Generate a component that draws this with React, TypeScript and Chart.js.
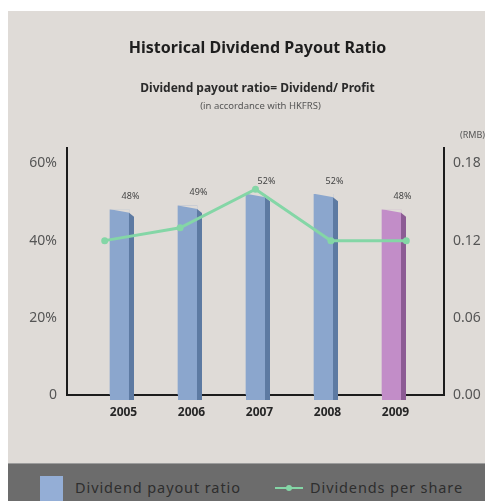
import React, { useEffect, useRef } from "react";
import { Chart, registerables } from "chart.js";

Chart.register(...registerables);

const years = ["2005", "2006", "2007", "2008", "2009"];
const payoutRatio = [48, 49, 52, 52, 48];
const dividendsPerShare = [0.12, 0.13, 0.16, 0.12, 0.12];
const leftTicks = [0, 20, 40, 60];
const leftTickLabels = ["0", "20%", "40%", "60%"];
const rightTicks = [0, 0.06, 0.12, 0.18];
const rightTickLabels = ["0.00", "0.06", "0.12", "0.18"];

const FRONT = ["#8ba6cd", "#8ba6cd", "#8ba6cd", "#8ba6cd", "#c28dc8"];
const SIDE = ["#5d7aa2", "#5d7aa2", "#5d7aa2", "#5d7aa2", "#8c5b94"];
const PANEL = "#dfdbd7";
const GREEN = "#84d6a6";
const FONT = "'Noto Sans', 'DejaVu Sans', sans-serif";

const bar3d = {
  id: "bar3d",
  afterDatasetDraw(chart: any, args: any) {
    if (args.index !== 0) return;
    const ctx = chart.ctx;
    const meta = chart.getDatasetMeta(0);
    ctx.save();
    meta.data.forEach((el: any, i: number) => {
      const { x, y, base, width } = el.getProps(["x", "y", "base", "width"], true);
      const xl = x - width / 2;
      const xr = x + width / 2;
      // extension below base
      ctx.fillStyle = FRONT[i];
      ctx.fillRect(xl, base - 1, width, 6);
      // side face
      ctx.fillStyle = SIDE[i];
      ctx.beginPath();
      ctx.moveTo(xr, y + 3);
      ctx.lineTo(xr + 5, y + 7);
      ctx.lineTo(xr + 5, base + 5);
      ctx.lineTo(xr, base + 5);
      ctx.closePath();
      ctx.fill();
      // slanted top
      ctx.fillStyle = PANEL;
      ctx.beginPath();
      ctx.moveTo(xl, y - 0.5);
      ctx.lineTo(xr + 0.5, y - 0.5);
      ctx.lineTo(xr + 0.5, y + 3);
      ctx.closePath();
      ctx.fill();
      // value label
      ctx.fillStyle = "#444";
      ctx.font = `9px ${FONT}`;
      ctx.textAlign = "center";
      ctx.textBaseline = "middle";
      ctx.fillText(`${payoutRatio[i]}%`, x + 11, y - 13);
    });
    ctx.restore();
  },
};

export default function App() {
  const ref = useRef<HTMLCanvasElement | null>(null);

  useEffect(() => {
    if (!ref.current) return;
    Chart.defaults.font.family = FONT;
    const chart = new Chart(ref.current, {
      type: "bar",
      data: {
        labels: years,
        datasets: [
          {
            type: "bar",
            label: "Dividend payout ratio",
            data: payoutRatio.map((v, i) => ({ x: i, y: v })) as any,
            backgroundColor: FRONT,
            barThickness: 19,
            grouped: false,
            xAxisID: "xb",
            yAxisID: "y",
            order: 1,
          },
          {
            type: "line",
            label: "Dividends per share",
            data: dividendsPerShare,
            borderColor: GREEN,
            backgroundColor: GREEN,
            borderWidth: 3,
            pointRadius: 3.5,
            pointBorderWidth: 0,
            tension: 0,
            xAxisID: "x",
            yAxisID: "y1",
            order: 0,
          },
        ] as any,
      },
      options: {
        responsive: false,
        animation: false,
        layout: { padding: { top: 137, left: 0, right: 0, bottom: 0 } },
        plugins: {
          legend: { display: false },
          tooltip: { enabled: false },
          title: { display: false },
        },
        scales: {
          x: {
            type: "category",
            display: false,
            offset: true,
          },
          xb: {
            type: "linear",
            position: "bottom",
            offset: false,
            min: -0.772,
            max: 4.772,
            grid: { display: false, drawTicks: false, offset: false },
            border: { display: true, color: "#1c1c1c", width: 2 },
            afterBuildTicks: (s: any) => {
              s.ticks = years.map((_, i) => ({ value: i }));
            },
            afterFit: (s: any) => {
              s.height = 36;
            },
            ticks: {
              autoSkip: false,
              maxRotation: 0,
              padding: 10,
              labelOffset: 4,
              color: "#262626",
              font: { size: 12, weight: "bold" },
              callback: (v: any) => years[Math.round(v)] ?? "",
            },
          },
          y: {
            type: "linear",
            position: "left",
            min: 0,
            max: 64,
            grid: { display: false, drawTicks: false },
            border: { display: true, color: "#1c1c1c", width: 2 },
            afterBuildTicks: (s: any) => {
              s.ticks = leftTicks.map((v) => ({ value: v }));
            },
            afterFit: (s: any) => {
              s.width = 59;
            },
            ticks: {
              padding: 10,
              color: "#555",
              font: { size: 14 },
              callback: (v: any) => leftTickLabels[leftTicks.indexOf(v)] ?? "",
            },
          },
          y1: {
            type: "linear",
            position: "right",
            min: 0,
            max: 0.192,
            grid: { display: false, drawTicks: false },
            border: { display: true, color: "#1c1c1c", width: 2 },
            afterBuildTicks: (s: any) => {
              s.ticks = rightTicks.map((v) => ({ value: v }));
            },
            afterFit: (s: any) => {
              s.width = 49;
            },
            ticks: {
              padding: 9,
              color: "#555",
              font: { size: 14 },
              callback: (v: any) => {
                const idx = rightTicks.findIndex((t) => Math.abs(t - v) < 1e-9);
                return rightTickLabels[idx] ?? "";
              },
            },
          },
        },
      } as any,
      plugins: [bar3d],
    });
    return () => chart.destroy();
  }, []);

  const textBase: React.CSSProperties = {
    position: "absolute",
    left: 0,
    width: 499,
    textAlign: "center",
    fontFamily: FONT,
    whiteSpace: "nowrap",
  };

  return (
    <div style={{ paddingTop: 3 }}>
      <div
        style={{
          position: "relative",
          width: 485,
          height: 490,
          background: PANEL,
          overflow: "hidden",
        }}
      >
        <canvas
          ref={ref}
          width={485}
          height={420}
          style={{ position: "absolute", left: 0, top: 0, width: 485, height: 420 }}
        />
        <div style={{ ...textBase, top: 25, fontSize: 16, fontWeight: "bold", color: "#1e1e1e", lineHeight: "22px" }}>
          Historical Dividend Payout Ratio
        </div>
        <div style={{ ...textBase, top: 69, fontSize: 12, fontWeight: "bold", color: "#2a2a2a", lineHeight: "16px" }}>
          Dividend payout ratio= Dividend/ Profit
        </div>
        <div style={{ ...textBase, left: 3, top: 88, fontSize: 9.5, color: "#555", lineHeight: "13px" }}>
          (in accordance with HKFRS)
        </div>
        <div
          style={{
            position: "absolute",
            right: 8,
            top: 118,
            fontSize: 9,
            lineHeight: "12px",
            color: "#555",
            fontFamily: FONT,
          }}
        >
          (RMB)
        </div>
        <div
          style={{
            position: "absolute",
            left: 0,
            top: 452,
            width: 485,
            height: 40,
            background: "#6c6c6c",
            borderTop: "1px solid #9c9c9c",
          }}
        >
          <div
            style={{
              position: "absolute",
              left: 32,
              top: 12,
              width: 23,
              height: 26,
              background: "#94aed6",
            }}
          />
          <div
            style={{
              position: "absolute",
              left: 67,
              top: 13,
              fontSize: 14.5,
              lineHeight: "20px",
              color: "#2e2e2e",
              fontFamily: FONT,
              letterSpacing: 0.9,
              whiteSpace: "nowrap",
            }}
          >
            Dividend payout ratio
          </div>
          <div
            style={{
              position: "absolute",
              left: 267,
              top: 23,
              width: 28,
              height: 2,
              background: GREEN,
            }}
          />
          <div
            style={{
              position: "absolute",
              left: 278,
              top: 21,
              width: 6,
              height: 6,
              borderRadius: 3,
              background: GREEN,
            }}
          />
          <div
            style={{
              position: "absolute",
              left: 302,
              top: 13,
              fontSize: 14.5,
              lineHeight: "20px",
              color: "#2e2e2e",
              fontFamily: FONT,
              letterSpacing: 0.9,
              whiteSpace: "nowrap",
            }}
          >
            Dividends per share
          </div>
        </div>
      </div>
    </div>
  );
}
